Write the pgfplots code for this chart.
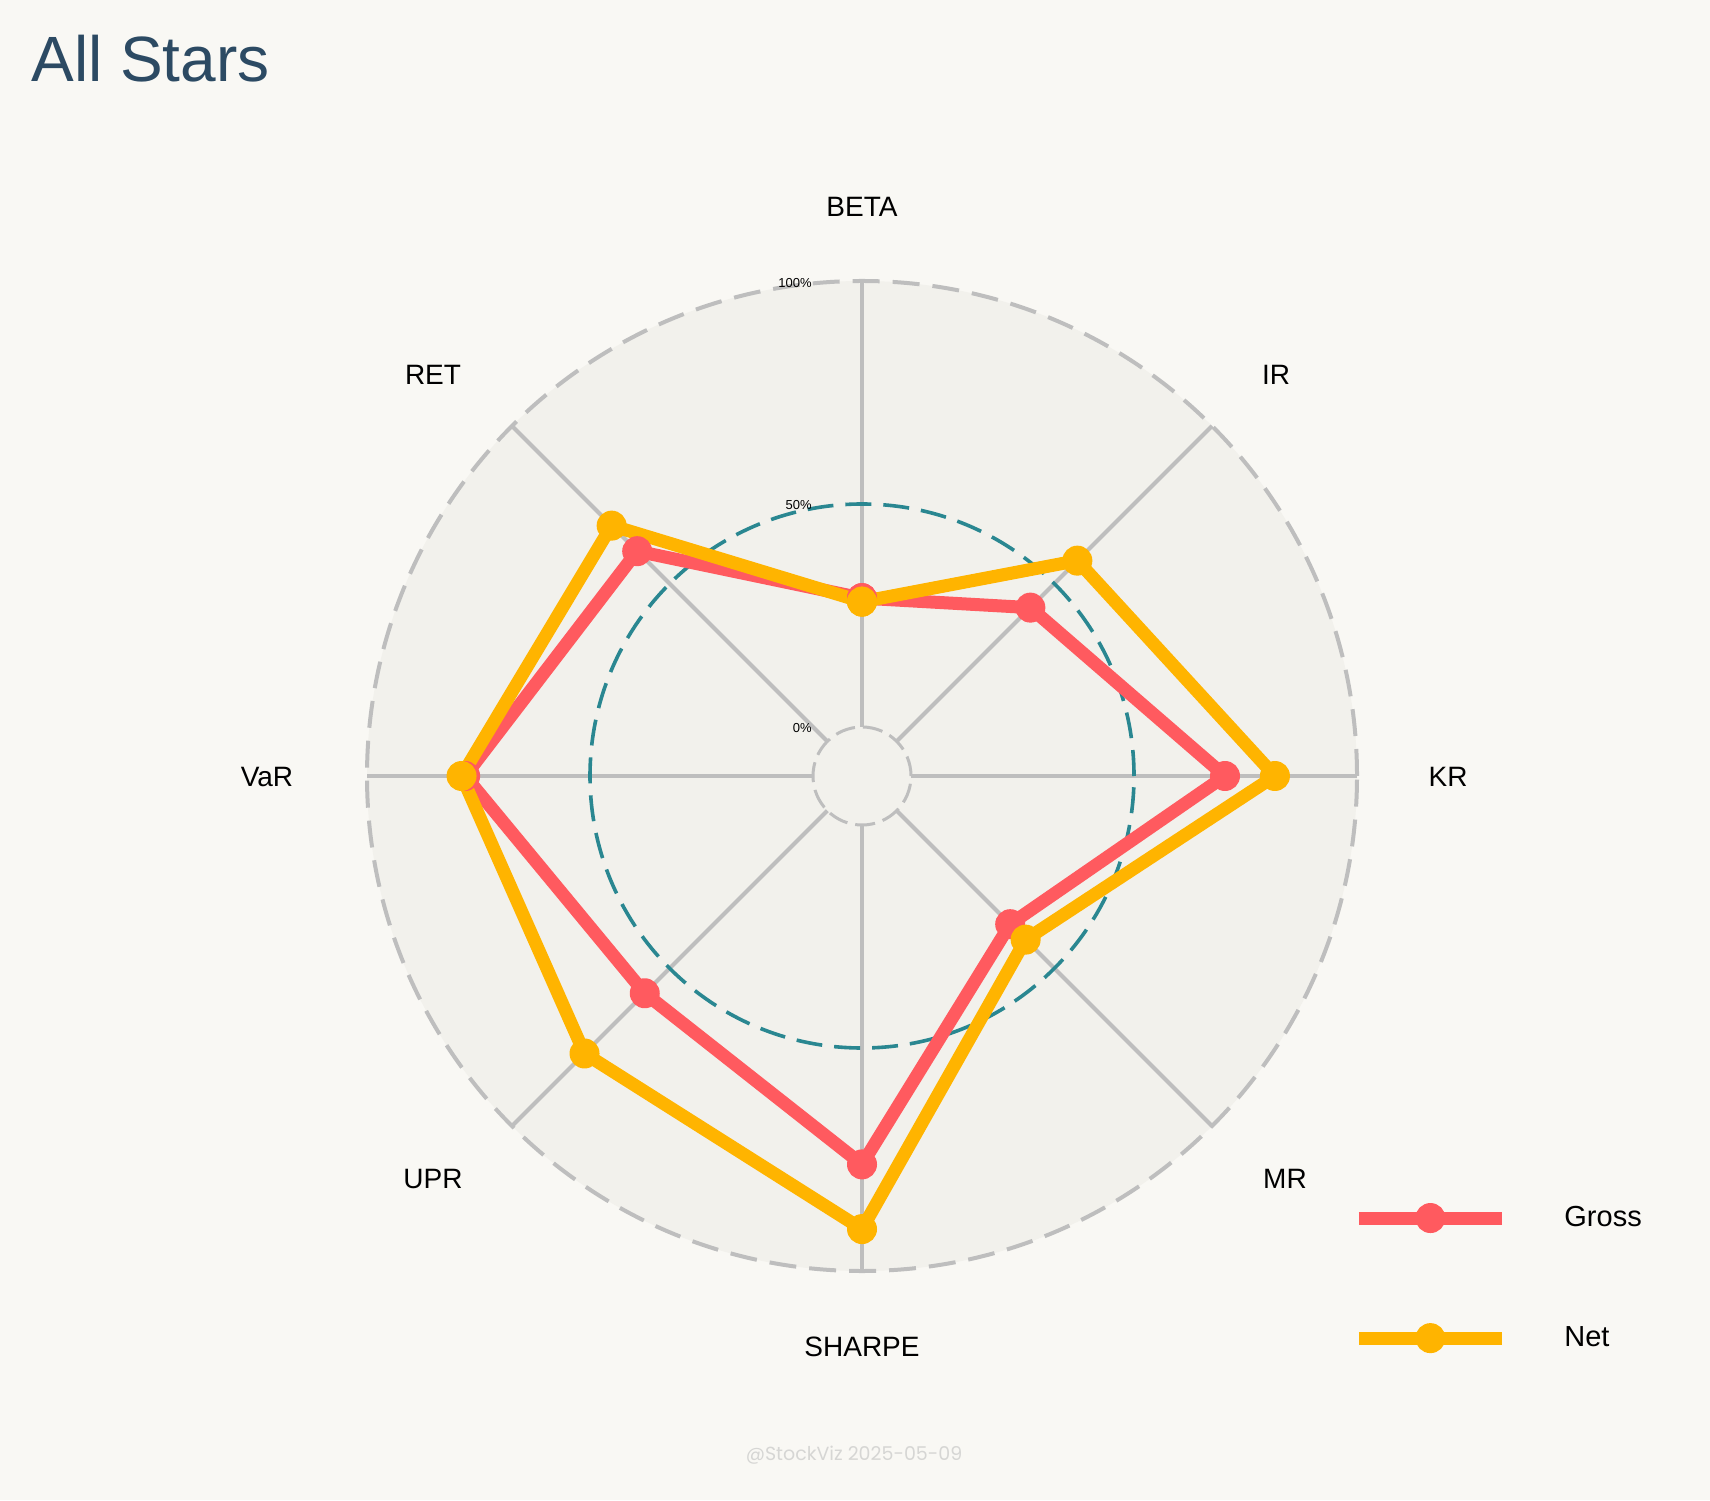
\documentclass[border=0pt]{standalone}
\usepackage{pgfplots}
\pgfplotsset{compat=1.18}
\usepackage{pgfplotstable}
\usepackage{fontspec}
\setmainfont{Liberation Sans}
\newfontfamily\wmfont{Poppins}
\definecolor{bgc}{RGB}{249,248,244}
\definecolor{plotbg}{RGB}{242,241,236}
\definecolor{gridc}{RGB}{190,190,190}
\definecolor{tealc}{RGB}{42,135,145}
\definecolor{grossc}{RGB}{255,90,95}
\definecolor{netc}{RGB}{255,180,0}
\definecolor{titlec}{RGB}{44,74,99}
\definecolor{wmc}{RGB}{214,214,212}

% angle (deg), Gross (%), Net (%)
\pgfplotstableread{
ang gross net
90 28.9 28.1
45 42.4 57.3
0 70.4 81.6
-45 36.0 40.9
-90 76.1 90.6
-135 57.9 77.0
180 78.0 78.8
135 60.3 68.4
90 28.9 28.1
}\radar

\begin{document}
\begin{tikzpicture}
\begin{axis}[
  scale only axis, width=855pt, height=750pt,
  xmin=0, xmax=1710, ymin=0, ymax=1500,
  hide axis, clip=false,
  legend style={at={(axis cs:1352,222)}, anchor=west, draw=none, fill=none,
    inner sep=0pt, row sep=44.5pt, font=\fontsize{14.5}{17}\selectfont,
    /tikz/every odd column/.append style={column sep=26pt}},
  legend cell align=left,
  legend image code/.code={\draw[mark repeat=2,mark phase=2,#1] plot coordinates {(0pt,0pt) (35.75pt,0pt) (71.5pt,0pt)};},
]
\fill[bgc] (axis cs:0,0) rectangle (axis cs:1710,1500);
\coordinate (c) at (axis cs:862,724);
\fill[plotbg] (c) circle[radius=247.5pt];
\pgfplotsinvokeforeach{0,45,90,135,180,225,270,315}{
  \draw[gridc, line width=2pt] ([shift={(#1:24.5pt)}]c) -- ([shift={(#1:247.5pt)}]c);
}
\draw[gridc, line width=2pt, dash pattern=on 13.5pt off 6.5pt] (c) circle[radius=247.5pt];
\draw[gridc, line width=1.5pt, dash pattern=on 10pt off 4pt] (c) circle[radius=24.5pt];
\draw[tealc, line width=1.8pt, dash pattern=on 13pt off 6pt] (c) circle[radius=136pt];

\node[anchor=east, font=\fontsize{6.5}{7}\selectfont, inner sep=0pt] at (axis cs:812,1217) {100\%};
\node[anchor=east, font=\fontsize{6.5}{7}\selectfont, inner sep=0pt] at (axis cs:812,995) {50\%};
\node[anchor=east, font=\fontsize{6.5}{7}\selectfont, inner sep=0pt] at (axis cs:812,772) {0\%};

\addplot[grossc, line width=6.5pt, line join=round, mark=*, mark size=7pt,
  mark options={solid, fill=grossc, draw=grossc, line width=1pt}]
  table[x expr={862+(49+4.46*\thisrow{gross})*cos(\thisrow{ang})},
        y expr={724+(49+4.46*\thisrow{gross})*sin(\thisrow{ang})}] {\radar};
\addlegendentry{Gross}
\addplot[netc, line width=6.5pt, line join=round, mark=*, mark size=7pt,
  mark options={solid, fill=netc, draw=netc, line width=1pt}]
  table[x expr={862+(49+4.46*\thisrow{net})*cos(\thisrow{ang})},
        y expr={724+(49+4.46*\thisrow{net})*sin(\thisrow{ang})}] {\radar};
\addlegendentry{Net}

\begin{scope}[every node/.style={font=\fontsize{14}{17}\selectfont, text=black}]
\node at (axis cs:862,1293) {BETA};
\node at (axis cs:1276,1125) {IR};
\node at (axis cs:1448,723) {KR};
\node at (axis cs:1285,321) {MR};
\node at (axis cs:862,153) {SHARPE};
\node at (axis cs:433,321) {UPR};
\node at (axis cs:267,723) {VaR};
\node at (axis cs:433,1125) {RET};
\end{scope}

\node[anchor=base west, font=\fontsize{32}{38}\selectfont, text=titlec, inner sep=0pt] at (axis cs:31,1418) {All Stars};
\node[font=\wmfont\fontsize{9.5}{11}\selectfont, text=wmc] at (axis cs:854,45) {@StockViz 2025-05-09};
\end{axis}
\end{tikzpicture}
\end{document}
